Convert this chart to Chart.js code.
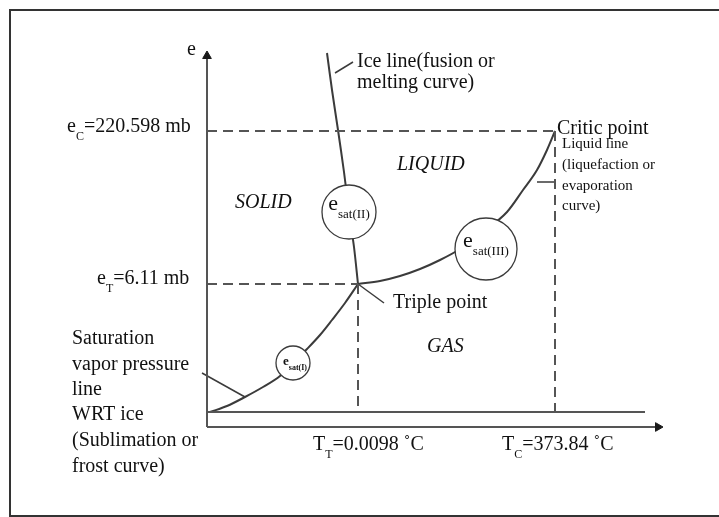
<!DOCTYPE html>
<html>
<head>
<meta charset="utf-8">
<script src="https://cdn.jsdelivr.net/npm/chart.js@4.4.0/dist/chart.umd.min.js"></script>
<style>
html, body { margin: 0; padding: 0; background: #fff; }
#wrap { width: 719px; height: 517px; position: relative; }
</style>
</head>
<body>
<div id="wrap"><canvas id="phaseChart"></canvas></div>
<script>
// schematic units: origin at the corner of the axes, roughly 1 unit per px
let baseLevel = 15;              // solid line the curves start from
let tripleT = 151, criticT = 348;
let tripleE = 143, criticE = 296;

let xTickLabels = [
	{x: 106, parts: ['T', '_T', '=0.0098 ˚C']},
	{x: 295, parts: ['T', '_C', '=373.84 ˚C']}
];
let yTickLabels = [
	{y: 295, x: -140, parts: ['e', '_C', '=220.598 mb']},
	{y: 143, x: -110, parts: ['e', '_T', '=6.11 mb']}
];

// curves
let frostCurve = [[3,15],[20,21],[38,30],[56,40],[73,51],[86,64],[100,78],[113,92],[125,107],[138,124],[151,143]];
let iceLine = [[151,143],[147,180],[142,215],[137,255],[131,297],[125,337],[120,374]];
let liquidLine = [[151,143],[173,146],[193,151],[213,158],[233,167],[253,178],[273,193],[300,215],[316,237],[330,257],[340,277],[348,296]];

// circles on the curves
let circleCenters = [[86,64],[142,215],[279,178]];
let circleRadii = [17, 27, 31];
let circleNames = [['e', '_sat(I)'], ['e', '_sat(II)'], ['e', '_sat(III)']];

// leader lines to the notes
let leaders = [
	[[128,354],[146,365]],
	[[151,143],[177,124]],
	[[330,245],[348,245],[348,240]],
	[[-5,54],[38,30]]
];

let notes = [
	{x: -20, y: 372, size: 20, parts: ['e']},
	{x: 150, y: 360, size: 20, parts: ['Ice line(fusion or']},
	{x: 150, y: 339, size: 20, parts: ['melting curve)']},
	{x: 350, y: 293, size: 20, parts: ['Critic point']},
	{x: 355, y: 279, size: 15, parts: ['Liquid line']},
	{x: 355, y: 258, size: 15, parts: ['(liquefaction or']},
	{x: 355, y: 237, size: 15, parts: ['evaporation']},
	{x: 355, y: 217, size: 15, parts: ['curve)']},
	{x: 28, y: 219, size: 20, italic: true, parts: ['SOLID']},
	{x: 190, y: 257, size: 20, italic: true, parts: ['LIQUID']},
	{x: 220, y: 75, size: 20, italic: true, parts: ['GAS']},
	{x: 186, y: 119, size: 20, parts: ['Triple point']},
	{x: -135, y: 83, size: 20, parts: ['Saturation']},
	{x: -135, y: 57, size: 20, parts: ['vapor pressure']},
	{x: -135, y: 32, size: 20, parts: ['line']},
	{x: -135, y: 7, size: 20, parts: ['WRT ice']},
	{x: -135, y: -19, size: 20, parts: ['(Sublimation or']},
	{x: -135, y: -45, size: 20, parts: ['frost curve)']}
];

let pts = arr => arr.map(p => ({x: p[0], y: p[1]}));

function lineSet(points, extra) {
	return Object.assign({
		type: 'line',
		data: pts(points),
		showLine: true,
		pointRadius: 0,
		borderColor: '#3b3b3b',
		borderWidth: 2,
		fill: false,
		tension: 0,
		order: 2
	}, extra || {});
}

let datasets = [];

// circles first so they sit on top of the curves
datasets.push({
	type: 'line',
	data: pts(circleCenters),
	showLine: false,
	pointRadius: circleRadii,
	pointBackgroundColor: '#ffffff',
	pointBorderColor: '#3b3b3b',
	pointBorderWidth: 1.3,
	order: 0
});

// axis arrows
datasets.push({
	type: 'line',
	data: [{x: 0, y: 371}, {x: 451, y: 0}],
	showLine: false,
	pointStyle: 'triangle',
	pointRadius: 5,
	rotation: [0, 90],
	pointBackgroundColor: '#1a1a1a',
	pointBorderColor: '#1a1a1a',
	pointBorderWidth: 1,
	order: 1
});

// axes and base line
datasets.push(lineSet([[0, 0], [0, 368]], {borderColor: '#555', borderWidth: 2}));
datasets.push(lineSet([[0, 0], [448, 0]], {borderColor: '#555', borderWidth: 2}));
datasets.push(lineSet([[0, baseLevel], [438, baseLevel]], {borderColor: '#555', borderWidth: 2.2}));

// dashed guides
let dash = {borderColor: '#555', borderWidth: 2, borderDash: [10, 6]};
datasets.push(lineSet([[0, criticE], [criticT, criticE]], dash));
datasets.push(lineSet([[0, tripleE], [tripleT, tripleE]], dash));
datasets.push(lineSet([[tripleT, tripleE], [tripleT, baseLevel]], dash));
datasets.push(lineSet([[criticT, criticE], [criticT, baseLevel]], dash));

// phase curves
datasets.push(lineSet(frostCurve, {cubicInterpolationMode: 'monotone'}));
datasets.push(lineSet(iceLine, {tension: 0.3}));
datasets.push(lineSet(liquidLine, {cubicInterpolationMode: 'monotone'}));

leaders.forEach(l => datasets.push(lineSet(l, {borderWidth: 1.5})));

function drawParts(ctx, parts, px, py, size, italic, bold, center) {
	let subSize = Math.round(size * 0.6);
	let main = (italic ? 'italic ' : '') + (bold ? 'bold ' : '') + size + 'px "Liberation Serif", "Times New Roman", serif';
	let sub = (bold ? 'bold ' : '') + subSize + 'px "Liberation Serif", "Times New Roman", serif';
	let w = 0;
	parts.forEach(p => {
		ctx.font = p[0] === '_' ? sub : main;
		w += ctx.measureText(p[0] === '_' ? p.slice(1) : p).width;
	});
	let cx = center ? px - w / 2 : px;
	parts.forEach(p => {
		let isSub = p[0] === '_';
		let t = isSub ? p.slice(1) : p;
		ctx.font = isSub ? sub : main;
		ctx.fillText(t, cx, isSub ? py + size * 0.38 : py);
		cx += ctx.measureText(t).width;
	});
}

let labelPlugin = {
	id: 'labelPlugin',
	beforeDraw(chart) {
		let ctx = chart.ctx;
		ctx.save();
		ctx.fillStyle = '#fff';
		ctx.fillRect(0, 0, chart.width, chart.height);
		ctx.strokeStyle = '#333';
		ctx.lineWidth = 2;
		ctx.strokeRect(10, 10, chart.width + 20, chart.height - 11);
		ctx.restore();
	},
	afterDatasetsDraw(chart) {
		let ctx = chart.ctx;
		let xs = chart.scales.x, ys = chart.scales.y;
		ctx.save();
		ctx.fillStyle = '#111';
		ctx.textBaseline = 'alphabetic';
		ctx.textAlign = 'left';
		notes.forEach(n => {
			drawParts(ctx, n.parts, xs.getPixelForValue(n.x), ys.getPixelForValue(n.y), n.size, n.italic, false, false);
		});
		yTickLabels.forEach(t => {
			drawParts(ctx, t.parts, xs.getPixelForValue(t.x), ys.getPixelForValue(t.y), 20, false, false, false);
		});
		xTickLabels.forEach(t => {
			drawParts(ctx, t.parts, xs.getPixelForValue(t.x), ys.getPixelForValue(-23), 20, false, false, false);
		});
		// names inside the circles
		circleCenters.forEach((c, i) => {
			let px = xs.getPixelForValue(c[0]);
			let py = ys.getPixelForValue(c[1]);
			if (i === 0) drawParts(ctx, circleNames[i], px + 2, py + 2, 13, false, true, true);
			else drawParts(ctx, circleNames[i], px, py - 2, 22, false, false, true);
		});
		ctx.restore();
	}
};

new Chart('phaseChart', {
	type: 'line',
	data: {datasets: datasets},
	options: {
		responsive: true,
		maintainAspectRatio: false,
		animation: false,
		layout: {padding: 0, autoPadding: false},
		plugins: {legend: {display: false}, tooltip: {enabled: false}},
		scales: {
			x: {type: 'linear', min: -207, max: 512, display: false},
			y: {type: 'linear', min: -90, max: 427, display: false}
		}
	},
	plugins: [labelPlugin]
});
</script>
</body>
</html>
